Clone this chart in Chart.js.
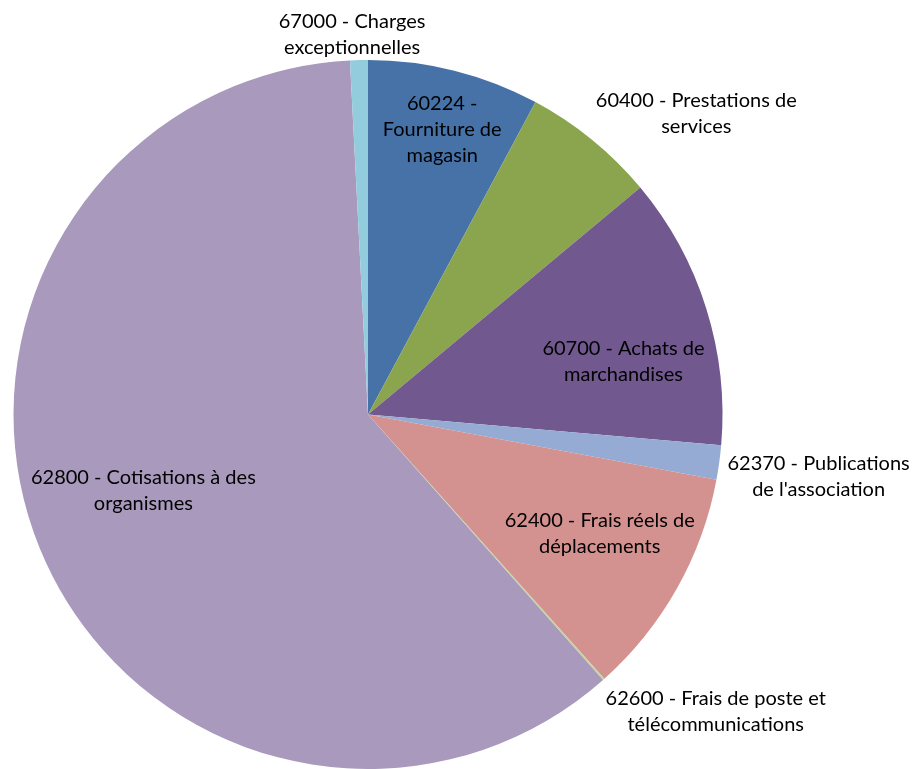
<!DOCTYPE html>
<html>
<head>
<meta charset="utf-8">
<script src="https://cdn.jsdelivr.net/npm/chart.js@4"></script>
<style>
    html, body { margin: 0; padding: 0; background: #ffffff; }
    #wrap { width: 916px; height: 769px; position: relative; }
</style>
</head>
<body>
<div id="wrap"><canvas id="pieChart"></canvas></div>
<script>
// Données du graphique
const categories = [
    '60224 - Fourniture de magasin',
    '60400 - Prestations de services',
    '60700 - Achats de marchandises',
    "62370 - Publications de l'association",
    '62400 - Frais réels de déplacements',
    '62600 - Frais de poste et télécommunications',
    '62800 - Cotisations à des organismes',
    '67000 - Charges exceptionnelles'
];
const values = [7.83, 6.11, 12.44, 1.56, 10.44, 0.08, 60.72, 0.81];

// Libellés découpés en lignes comme sur l'original
const labelLines = [
    ['60224 -', 'Fourniture de', 'magasin'],
    ['60400 - Prestations de', 'services'],
    ['60700 - Achats de', 'marchandises'],
    ['62370 - Publications', "de l'association"],
    ['62400 - Frais réels de', 'déplacements'],
    ['62600 - Frais de poste et', 'télécommunications'],
    ['62800 - Cotisations à des', 'organismes'],
    ['67000 - Charges', 'exceptionnelles']
];

const colors = ['#4672A8', '#8BA54E', '#71588F', '#95ABD3', '#D39290', '#C3D69B', '#A99ABD', '#93CDDD'];

// placement des étiquettes : angle (degrés depuis midi) et rayon relatif
const labelAngle = [14.6, 47.5, 78.3, 97.8, 117.2, 130.5, 251.3, 357.6];
const labelRadius = [0.83, 1.256, 0.736, 1.283, 0.735, 1.29, 0.669, 1.073];

const labelPlugin = {
    id: 'pieLabels',
    afterDatasetsDraw(chart) {
        const ctx = chart.ctx;
        const meta = chart.getDatasetMeta(0);
        ctx.save();
        ctx.font = '20px Lato, "Open Sans", sans-serif';
        ctx.fillStyle = '#000000';
        ctx.textAlign = 'center';
        ctx.textBaseline = 'middle';
        const lineH = 26;
        meta.data.forEach((arc, i) => {
            const a = labelAngle[i] * Math.PI / 180;
            const r = arc.outerRadius * labelRadius[i];
            const cx = arc.x + Math.sin(a) * r;
            const cy = arc.y - Math.cos(a) * r;
            const lines = labelLines[i];
            const top = cy - (lines.length - 1) * lineH / 2;
            lines.forEach((txt, k) => ctx.fillText(txt, cx, top + k * lineH));
        });
        ctx.restore();
    }
};

new Chart(document.getElementById('pieChart'), {
    type: 'pie',
    data: {
        labels: categories,
        datasets: [{
            data: values,
            backgroundColor: colors,
            borderWidth: 0
        }]
    },
    options: {
        responsive: true,
        maintainAspectRatio: false,
        animation: false,
        layout: { padding: { left: 13, right: 193, top: 60, bottom: 0 } },
        plugins: {
            legend: { display: false },
            tooltip: { enabled: false }
        }
    },
    plugins: [labelPlugin]
});
</script>
</body>
</html>
